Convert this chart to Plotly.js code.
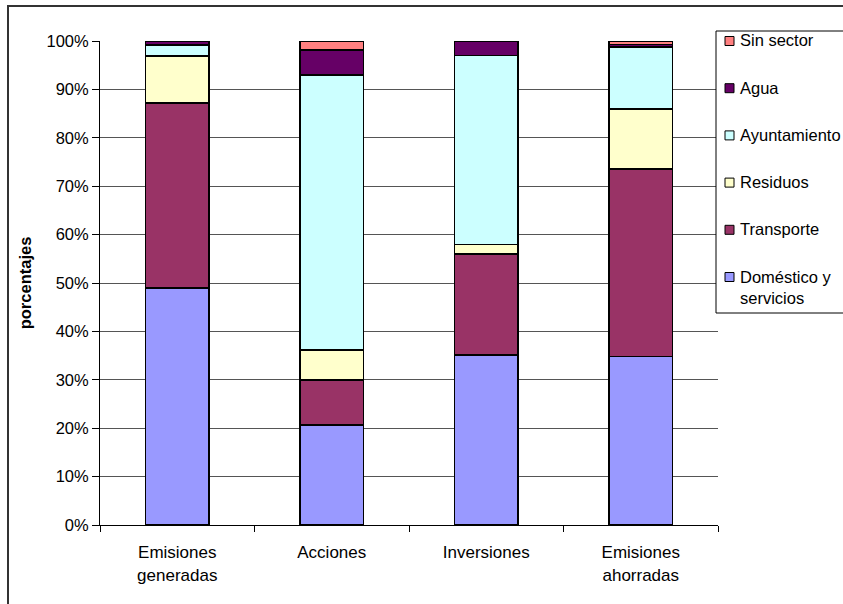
<!DOCTYPE html>
<html>
<head>
<meta charset="utf-8">
<script src="https://cdn.plot.ly/plotly-3.0.1.min.js"></script>
<style>
  html, body { margin: 0; padding: 0; background: #fff; }
  #chart { width: 843px; height: 604px; }
</style>
</head>
<body>
<div id="chart"></div>
<script>
// Sector shares (%) for each indicator
const categories = ["Emisiones<br>generadas", "Acciones", "Inversiones", "Emisiones<br>ahorradas"];
const domestico    = [49.0, 20.7, 35.1, 34.8];
const transporte   = [38.2,  9.3, 20.9, 38.8];
const residuos     = [ 9.7,  6.2,  2.0, 12.3];
const ayuntamiento = [ 2.3, 56.8, 39.0, 12.9];
const agua         = [ 0.8,  5.1,  3.0,  0.5];
const sinSector    = [ 0.0,  1.9,  0.0,  0.7];
const yTicks = [0, 10, 20, 30, 40, 50, 60, 70, 80, 90, 100];

const FONT = "Liberation Sans, Arial, sans-serif";

const series = [
  { name: "Doméstico y<br>servicios", y: domestico,    color: "#9999FF" },
  { name: "Transporte",               y: transporte,   color: "#993366" },
  { name: "Residuos",                 y: residuos,     color: "#FFFFCC" },
  { name: "Ayuntamiento",             y: ayuntamiento, color: "#CCFFFF" },
  { name: "Agua",                     y: agua,         color: "#660066" },
  { name: "Sin sector",               y: sinSector,    color: "#FF8080" }
];

const traces = series.map(s => ({
  type: "bar",
  name: s.name.replace("<br>", " "),
  x: categories,
  y: s.y,
  marker: { color: s.color, line: { color: "#000", width: 1.5 } },
  hoverinfo: "x+y+name"
}));

// Plot area in pixels, used to place the legend box beside it
const M = { l: 100, r: 125, t: 41, b: 79 };
const W = 843, H = 604;
const pw = W - M.l - M.r, ph = H - M.t - M.b;
const px = v => (v - M.l) / pw;
const py = v => (H - M.b - v) / ph;

// Legend: top of the stack listed first
const legendShapes = [{
  type: "rect", xref: "paper", yref: "paper", layer: "above",
  x0: px(716), x1: px(900), y0: py(313), y1: py(31),
  line: { color: "#000", width: 1 }, fillcolor: "#fff"
}];
const legendNotes = [];
const order = series.slice().reverse();
order.forEach((s, k) => {
  const cy = 41 + k * 47.2;
  legendShapes.push({
    type: "rect", xref: "paper", yref: "paper", layer: "above",
    x0: px(725), x1: px(734), y0: py(cy + 4.5), y1: py(cy - 4.5),
    line: { color: "#000", width: 1 }, fillcolor: s.color
  });
  const lines = s.name.split("<br>").length;
  legendNotes.push({
    xref: "paper", yref: "paper",
    x: px(739), y: py(cy - 10.5), xanchor: "left", yanchor: "top",
    text: s.name, showarrow: false, align: "left",
    font: { family: FONT, size: 16.5, color: "#000" },
    borderpad: 0
  });
});

const layout = {
  width: W,
  height: H,
  paper_bgcolor: "#fff",
  plot_bgcolor: "#fff",
  barmode: "stack",
  bargap: 0.586,
  showlegend: false,
  font: { family: FONT, size: 16.5, color: "#000" },
  margin: { l: M.l, r: M.r, t: M.t, b: M.b, autoexpand: false },
  xaxis: {
    type: "category",
    tickson: "boundaries",
    ticks: "outside",
    ticklen: 6,
    tickcolor: "#000",
    ticklabelstandoff: 12,
    showline: true,
    linecolor: "#000",
    linewidth: 1,
    showgrid: false,
    tickfont: { family: FONT, size: 17, color: "#000" }
  },
  yaxis: {
    range: [0, 100],
    tickvals: yTicks,
    ticktext: yTicks.map(v => v + "%"),
    ticks: "outside",
    ticklen: 7,
    tickcolor: "#000",
    showline: true,
    linecolor: "#000",
    linewidth: 1,
    showgrid: true,
    gridcolor: "#555",
    gridwidth: 1,
    zeroline: false,
    tickfont: { family: FONT, size: 16.5, color: "#000" },
    title: {
      text: "<b>porcentajes</b>",
      font: { family: FONT, size: 16.5, color: "#000" },
      standoff: 10
    }
  },
  annotations: legendNotes,
  shapes: [
    {
      type: "rect",
      xref: "paper", yref: "paper",
      x0: px(8), x1: px(1000), y0: py(700), y1: py(6),
      line: { color: "#333", width: 2 },
      fillcolor: "rgba(0,0,0,0)",
      layer: "below"
    }
  ].concat(legendShapes)
};

Plotly.newPlot("chart", traces, layout, { displayModeBar: false, staticPlot: true });
</script>
</body>
</html>
